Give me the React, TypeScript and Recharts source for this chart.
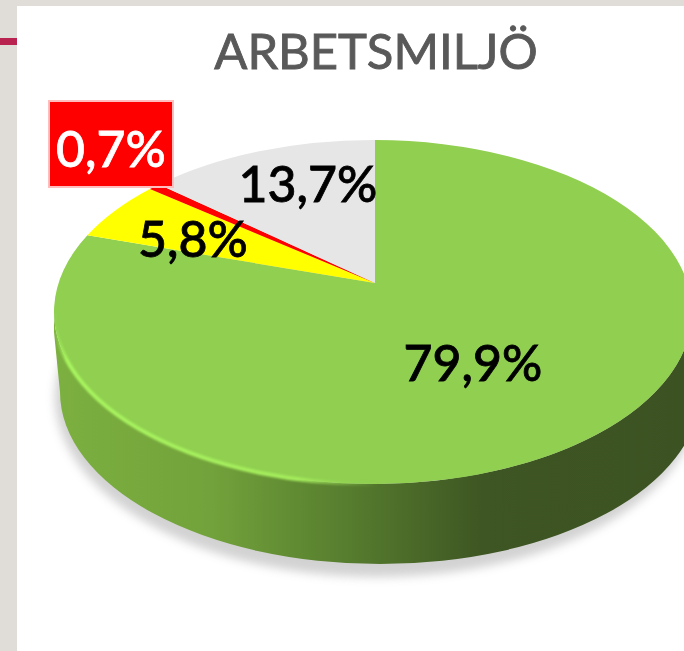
import { Pie, PieChart } from "recharts";

const sliceNames = ["Grön", "Gul", "Röd", "Grå"];
const sliceValues = [79.9, 5.8, 0.7, 13.7];
const sliceColors = ["#90cf50", "#ffff00", "#ff0000", "#e6e6e6"];
const labelColors = ["#000000", "#000000", "#ffffff", "#000000"];
const title = "ARBETSMILJÖ";

// label centres in the picture, same order as the slices
const labelX = [473, 193, 111, 308];
const labelY = [362, 238, 148, 183];

const data = sliceNames.map((name, i) => ({ name, value: sliceValues[i], fill: sliceColors[i] }));

// tilted disc: the top face is an ellipse and the apex sits above its centre (perspective)
const apexX = 375;
const apexY = 283;
const discX = 373;
const discY = 312;
const rx = 319;
const ry = 172;
const depth = 80;
const tilt = 0.53;

function rimPoint(angle: number) {
  const rad = (angle * Math.PI) / 180;
  const dx = Math.cos(rad);
  const dy = -Math.sin(rad) * tilt;
  const ox = (apexX - discX) / rx;
  const oy = (apexY - discY) / ry;
  const ux = dx / rx;
  const uy = dy / ry;
  const a = ux * ux + uy * uy;
  const b = 2 * (ox * ux + oy * uy);
  const c = ox * ox + oy * oy - 1;
  const t = (-b + Math.sqrt(b * b - 4 * a * c)) / (2 * a);
  return { x: apexX + dx * t, y: apexY + dy * t };
}

function Slice(props: any) {
  const { startAngle, endAngle, fill, index } = props;
  const from = rimPoint(startAngle);
  const to = rimPoint(endAngle);
  const large = Math.abs(startAngle - endAngle) > 180 ? 1 : 0;
  const top = `M${apexX},${apexY} L${from.x},${from.y} A${rx},${ry} 0 ${large} 1 ${to.x},${to.y} Z`;
  const left = discX - rx;
  const right = discX + rx;
  // the lower edge of the wall is a little narrower on the left
  const wallLeft = left + 6;
  const wallRight = right + 8;
  const wallRx = (wallRight - wallLeft) / 2;
  return (
    <g>
      {index === 0 && (
        <>
          <ellipse cx={discX + 4} cy={discY + depth + 5} rx={rx + 3} ry={ry + 8} fill="#8a8a8a" opacity={0.38} filter="url(#discShadow)" />
          <path
            d={`M${left},${discY + 20} L${left},${discY} A${rx},${ry} 0 0 0 ${right},${discY} L${wallRight},${discY + depth} A${wallRx},${ry} 0 0 1 ${wallLeft},${discY + depth} Z`}
            fill="url(#discSide)"
          />
        </>
      )}
      <path d={top} fill={fill} />
      {index === 0 && (
        <path
          d={`M${left},${discY} A${rx},${ry} 0 0 0 ${discX + 5},${discY + ry}`}
          fill="none"
          stroke="url(#discRim)"
          strokeWidth={4}
          filter="url(#rimBlur)"
        />
      )}
    </g>
  );
}

function SliceLabel(props: any) {
  const { index, value } = props;
  const text = `${String(value).replace(".", ",")}%`;
  const x = labelX[index];
  const y = labelY[index];
  return (
    <g>
      {index === 2 && <rect x={x - 62} y={y - 47} width={124} height={86} fill="#ff0000" stroke="#ffbdbd" strokeWidth={2} />}
      <text
        x={x}
        y={y}
        textAnchor="middle"
        dominantBaseline="central"
        fontFamily="Lato, sans-serif"
        fontSize={50}
        fontWeight={500}
        fill={labelColors[index]}
        stroke={labelColors[index]}
        strokeWidth={0.8}
      >
        {text}
      </text>
    </g>
  );
}

export default function App() {
  return (
    <div style={{ position: "absolute", left: 0, top: 0, width: 684, height: 651, overflow: "hidden", background: "#e0ddd8" }}>
      <div style={{ position: "absolute", left: 17, top: 6, width: 667, height: 645, background: "#ffffff" }} />
      <div style={{ position: "absolute", left: 0, top: 38, width: 17, height: 7, background: "#b9234f" }} />
      <div style={{ position: "absolute", left: 0, top: 0, filter: "blur(0.6px)" }}>
        <PieChart width={684} height={651} margin={{ top: 0, right: 0, bottom: 0, left: 0 }}>
          <defs>
            <linearGradient id="discSide" gradientUnits="userSpaceOnUse" x1={54} y1={0} x2={684} y2={0}>
              <stop offset="0%" stopColor="#7cb040" />
              <stop offset="25%" stopColor="#72a23b" />
              <stop offset="47%" stopColor="#567c2e" />
              <stop offset="68%" stopColor="#3e5623" />
              <stop offset="100%" stopColor="#3c5222" />
            </linearGradient>
            <linearGradient id="discRim" gradientUnits="userSpaceOnUse" x1={54} y1={0} x2={378} y2={0}>
              <stop offset="0%" stopColor="#a8f55f" stopOpacity={0} />
              <stop offset="4%" stopColor="#a8f55f" />
              <stop offset="75%" stopColor="#a4ec5c" />
              <stop offset="100%" stopColor="#90cf50" stopOpacity={0} />
            </linearGradient>
            <filter id="discShadow" x="-10%" y="-10%" width="120%" height="120%">
              <feGaussianBlur stdDeviation="5" />
            </filter>
            <filter id="rimBlur" x="-5%" y="-5%" width="110%" height="110%">
              <feGaussianBlur stdDeviation="1" />
            </filter>
          </defs>
          <Pie
            data={data}
            dataKey="value"
            nameKey="name"
            cx={apexX}
            cy={apexY}
            outerRadius={rx}
            startAngle={90}
            endAngle={-270}
            stroke="none"
            shape={Slice}
            label={SliceLabel}
            labelLine={false}
            isAnimationActive={false}
          />
          <text x={376} y={50} textAnchor="middle" dominantBaseline="central" fontFamily="Lato, sans-serif" fontSize={49} fill="#595959" stroke="#595959" strokeWidth={0.9}>
            {title}
          </text>
        </PieChart>
      </div>
    </div>
  );
}
